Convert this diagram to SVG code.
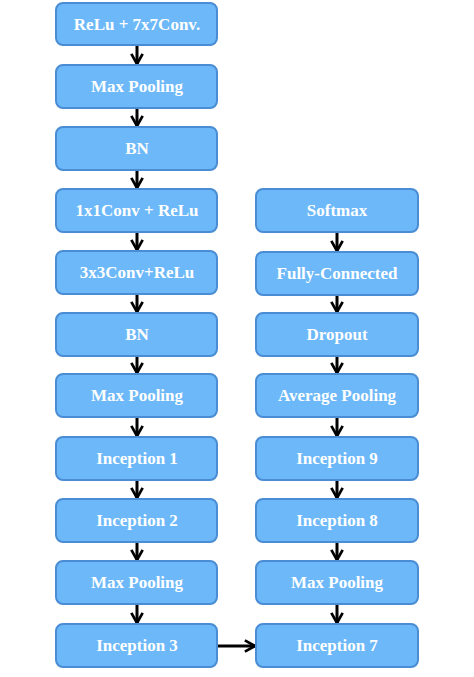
<svg xmlns="http://www.w3.org/2000/svg" width="474" height="677" viewBox="0 0 474 677">
<defs>
<style>
.box{fill:#6cb8f8;stroke:#4a8dd4;stroke-width:2}
.lbl{font-family:"Liberation Serif",serif;font-weight:bold;font-size:17px;fill:#fff;text-anchor:middle;dominant-baseline:central}
.con{stroke:#000;stroke-width:3;fill:none}
</style>
<marker id="ah" viewBox="0 0 10 10" refX="9" refY="5" markerWidth="4.5" markerHeight="4.5" orient="auto" markerUnits="strokeWidth">
<path d="M1.5,0.8 L9,5 L1.5,9.2" fill="none" stroke="#000" stroke-width="2"/>
</marker>
</defs>
<rect width="474" height="677" fill="#fff"/>
<g id="connectors" class="con" marker-end="url(#ah)">
<line x1="137" y1="45" x2="137" y2="64"/>
<line x1="137" y1="108" x2="137" y2="126"/>
<line x1="137" y1="170" x2="137" y2="188"/>
<line x1="137" y1="232" x2="137" y2="250"/>
<line x1="137" y1="294" x2="137" y2="312"/>
<line x1="137" y1="356" x2="137" y2="373"/>
<line x1="137" y1="417" x2="137" y2="436"/>
<line x1="137" y1="480" x2="137" y2="498"/>
<line x1="137" y1="542" x2="137" y2="560"/>
<line x1="137" y1="604" x2="137" y2="623"/>
<line x1="217" y1="646" x2="255" y2="646"/>
<line x1="337" y1="604" x2="337" y2="623"/>
<line x1="337" y1="542" x2="337" y2="560"/>
<line x1="337" y1="480" x2="337" y2="498"/>
<line x1="337" y1="417" x2="337" y2="436"/>
<line x1="337" y1="356" x2="337" y2="373"/>
<line x1="337" y1="295" x2="337" y2="312"/>
<line x1="337" y1="232" x2="337" y2="251"/>
</g>
<g id="n1"><rect class="box" x="56" y="3" width="161" height="42" rx="7"/><text class="lbl" x="137" y="24">ReLu + 7x7Conv.</text></g>
<g id="n2"><rect class="box" x="56" y="65" width="161" height="43" rx="7"/><text class="lbl" x="137" y="86">Max Pooling</text></g>
<g id="n3"><rect class="box" x="56" y="127" width="161" height="43" rx="7"/><text class="lbl" x="137" y="148">BN</text></g>
<g id="n4"><rect class="box" x="56" y="189" width="161" height="43" rx="7"/><text class="lbl" x="137" y="210">1x1Conv + ReLu</text></g>
<g id="n5"><rect class="box" x="56" y="251" width="161" height="43" rx="7"/><text class="lbl" x="137" y="272">3x3Conv+ReLu</text></g>
<g id="n6"><rect class="box" x="56" y="313" width="161" height="43" rx="7"/><text class="lbl" x="137" y="334">BN</text></g>
<g id="n7"><rect class="box" x="56" y="374" width="161" height="43" rx="7"/><text class="lbl" x="137" y="395">Max Pooling</text></g>
<g id="n8"><rect class="box" x="56" y="437" width="161" height="43" rx="7"/><text class="lbl" x="137" y="458">Inception 1</text></g>
<g id="n9"><rect class="box" x="56" y="499" width="161" height="43" rx="7"/><text class="lbl" x="137" y="520">Inception 2</text></g>
<g id="n10"><rect class="box" x="56" y="561" width="161" height="43" rx="7"/><text class="lbl" x="137" y="582">Max Pooling</text></g>
<g id="n11"><rect class="box" x="56" y="624" width="161" height="43" rx="7"/><text class="lbl" x="137" y="645">Inception 3</text></g>
<g id="r1"><rect class="box" x="256" y="189" width="162" height="43" rx="7"/><text class="lbl" x="337" y="210">Softmax</text></g>
<g id="r2"><rect class="box" x="256" y="252" width="162" height="43" rx="7"/><text class="lbl" x="337" y="273">Fully-Connected</text></g>
<g id="r3"><rect class="box" x="256" y="313" width="162" height="43" rx="7"/><text class="lbl" x="337" y="334">Dropout</text></g>
<g id="r4"><rect class="box" x="256" y="374" width="162" height="43" rx="7"/><text class="lbl" x="337" y="395">Average Pooling</text></g>
<g id="r5"><rect class="box" x="256" y="437" width="162" height="43" rx="7"/><text class="lbl" x="337" y="458">Inception 9</text></g>
<g id="r6"><rect class="box" x="256" y="499" width="162" height="43" rx="7"/><text class="lbl" x="337" y="520">Inception 8</text></g>
<g id="r7"><rect class="box" x="256" y="561" width="162" height="43" rx="7"/><text class="lbl" x="337" y="582">Max Pooling</text></g>
<g id="r8"><rect class="box" x="256" y="624" width="162" height="43" rx="7"/><text class="lbl" x="337" y="645">Inception 7</text></g>
</svg>
